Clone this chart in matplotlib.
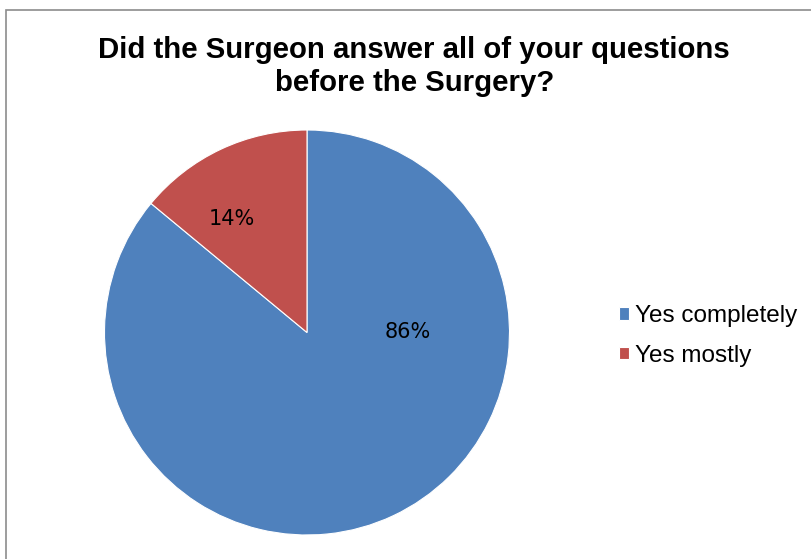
import matplotlib

matplotlib.use("Agg")
import matplotlib.pyplot as plt
from matplotlib.patches import Rectangle

# --- data ---
labels = ["Yes completely", "Yes mostly"]
values = [86, 14]
pct_labels = ["86%", "14%"]
colors = ["#4F81BD", "#C0504D"]

W, H = 811, 559
fig = plt.figure(figsize=(W / 100, H / 100), dpi=100)

# chart-area border (only left/top edges fall inside the image)
fig.patches.append(Rectangle((6 / W, -0.1), 1.2, (H - 10) / H + 0.1,
                             transform=fig.transFigure, fill=False,
                             edgecolor="#8c8c8c", linewidth=1.2))

ax = fig.add_axes([104.5 / W, 24 / H, 405 / W, 405 / H])
wedges, _ = ax.pie(values, colors=colors, startangle=90, counterclock=False,
                   wedgeprops=dict(edgecolor="white", linewidth=0.8))
ax.set_xlim(-1, 1)
ax.set_ylim(-1, 1)
ax.set_aspect("equal")

# percentage labels (placed as in the original chart)
ax.text(0.50, 0.0, pct_labels[0], ha="center", va="center",
        fontsize=15, family="DejaVu Sans", color="black")
ax.text(-0.37, 0.56, pct_labels[1], ha="center", va="center",
        fontsize=15, family="DejaVu Sans", color="black")

fig.text(414 / W, 1 - 50 / H, "Did the Surgeon answer all of your questions",
         ha="center", va="center", fontsize=21.2, fontweight="bold",
         family="Liberation Sans")
fig.text(415 / W, 1 - 83 / H, "before the Surgery?",
         ha="center", va="center", fontsize=21.2, fontweight="bold",
         family="Liberation Sans")

fig.legend(wedges, labels, loc="center left",
           bbox_to_anchor=(597 / W, 1 - 336 / H), frameon=False,
           prop=dict(family="Liberation Sans", size=17.5),
           handlelength=0.42, handleheight=0.42, handletextpad=0.25,
           labelspacing=0.72)

fig.savefig("out.png", dpi=100)
